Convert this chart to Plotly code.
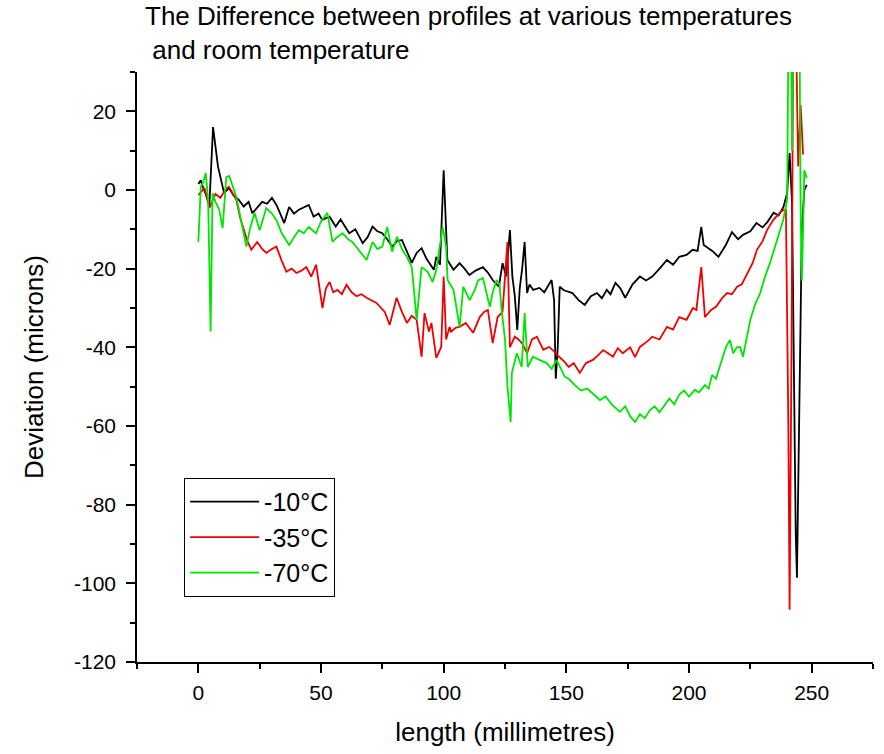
import plotly.graph_objects as go

# Deviation of each profile from the room-temperature profile (length mm, deviation microns)
profile_m10 = [
    (0, 1.5), (1, 2.5), (2, 0.5), (3, -1), (4.5, -3.8), (6, 16), (8, 6), (10.5, -0.8),
    (12.5, 0.5), (14.5, -1.5), (16.5, -2.5), (18.5, -4.2), (20.5, -3), (22, -5.9),
    (24, -4.5), (26, -3), (28, -3.5), (30, -2), (32, -4), (35, -8.4), (37, -4.3),
    (39, -6), (41, -5), (43, -4.5), (45, -3.8), (47, -6.8), (49, -6), (50.5, -7.6),
    (53.5, -6.8), (56, -9.3), (58, -7.5), (61.5, -11), (64, -10), (67, -13.5), (69, -12),
    (71, -9.3), (73, -10.5), (75, -11), (77, -12.5), (79, -14.4), (81, -13), (83, -12.7),
    (85, -15.5), (87, -18.5), (89, -16), (91, -14.8), (93, -17.5), (96, -20.3), (97, -17),
    (98.5, -19), (100, 5), (101.5, -17.8), (104, -20.3), (106.5, -18.6), (108.5, -20),
    (110.5, -21.6), (113, -20.5), (116, -19.6), (118, -21), (120, -22.9), (122.5, -24.6),
    (124, -18.6), (125.5, -22), (127, -10.2), (128, -22), (129, -27), (130, -35.6),
    (131, -25), (132, -20), (133, -13.2), (134, -26.2), (135, -24), (136.5, -25.4),
    (139, -24.9), (141, -26), (144, -22.9), (145, -28), (145.7, -48), (146.5, -40),
    (147.3, -24.6), (149, -25.5), (152.5, -26.2), (155, -28), (157.5, -29.2), (160, -27),
    (162.5, -26.2), (164.5, -27.5), (166.5, -25.4), (168, -26.5), (170, -23.6), (172, -25),
    (174, -27.4), (177, -24), (180, -22), (182.5, -23), (185, -22), (188, -20),
    (191, -17.8), (193.5, -19), (196, -17), (199, -16.5), (201.5, -15.2), (203.5, -15.5),
    (205, -9.4), (206, -14), (207, -14.4), (209.5, -15.5), (212, -17), (215, -14),
    (217.5, -10.7), (220, -12.5), (222, -11.4), (225, -10.5), (227.5, -8.4), (230, -9.5),
    (232, -8.1), (234.5, -5.8), (236.5, -6.5), (238.5, -4.3), (240, -0.8), (241, 9.4),
    (242, -3.3), (243, -60), (243.5, -87), (244, -98.6), (245, -60), (246, -10),
    (247, 0), (248, 1.3),
]

profile_m35 = [
    (0, -1.3), (1, -0.5), (2.5, 0.5), (4.5, -4.6), (5.5, -3), (7, -1), (9, -2),
    (11.5, 0.5), (12.5, 0.8), (15.5, -2.5), (17, -7), (18.8, -11), (20, -13),
    (21.6, -15.2), (24, -13.2), (26, -15), (27.7, -16), (30, -15), (31.8, -14.4),
    (34, -18), (35.9, -20.8), (38, -20), (40, -21.1), (42, -20.5), (44, -19.6), (46, -22),
    (48, -19), (50.6, -30), (52, -25), (53.5, -23.4), (55, -26), (56.7, -25.4),
    (58.5, -26.5), (60.4, -24.1), (62.5, -26), (64.5, -27), (66.5, -26.5), (68.6, -27.4),
    (70.5, -28), (72.6, -28.7), (74.5, -30), (76, -31), (78, -34.3), (80.8, -27.4),
    (83, -31), (85, -33.8), (87, -32), (89, -33), (91, -42.4), (92.2, -31.3), (94, -36),
    (95, -33.8), (97, -42.7), (99, -39.9), (100, -22), (101, -38), (102.4, -34.8),
    (103, -36), (105, -35), (106.5, -34.8), (109, -33.8), (112, -36.3), (114.7, -32.3),
    (116.5, -31), (118, -30.5), (120, -38.9), (122, -32.3), (124, -31), (126, -13.2),
    (127, -40), (129, -37.3), (130.5, -38), (132, -39), (134, -41.5), (136, -38),
    (138, -37.3), (140.6, -40.6), (143, -39.9), (145, -41), (147, -42.4), (149, -43.5),
    (151, -45), (153, -44), (155.5, -46.5), (158, -44), (160.8, -43.2), (163, -42),
    (165, -40.7), (167, -41.5), (169, -42.4), (171, -40.2), (173, -41.5), (176, -40),
    (178, -42.5), (180, -39.9), (183, -38.5), (185, -37.3), (188, -38), (191, -34.8),
    (193.5, -35.5), (196, -32.3), (199, -33), (201.6, -30), (203, -30.5), (205, -19.6),
    (206.5, -32.3), (209, -30.5), (211, -29.7), (213.5, -27.5), (215.5, -26.2),
    (217.5, -26.5), (219.6, -24.6), (221.5, -24), (223.7, -21.1), (226, -18.5),
    (227.7, -15.2), (230, -13), (231.8, -10.2), (234.4, -7.6), (237, -5.8), (238.4, -5.1),
    (239.5, -5), (240.5, -60), (241, -106.7), (241.8, -40), (242.5, 45), (243.5, 45),
    (244.5, 6), (245.5, 21.6), (246.5, 9),
]

profile_m70 = [
    (0, -13.2), (1, 0.8), (2, 2), (3, 4.3), (4, -2.5), (5, -36), (5.8, -0.8), (7, -3),
    (8.5, -5), (9.9, -9.7), (11.4, 3.3), (12.6, 3.6), (14, 1), (15.5, -1.8), (17.5, -8),
    (19.6, -14.4), (21, -10), (22.9, -5.8), (25, -10.2), (27.7, -4.6), (30, -6),
    (31.8, -7.6), (34, -11), (37, -14), (39, -12), (41, -10.2), (43, -11), (45, -9.4),
    (47, -10.5), (48, -11), (50, -8), (52.6, -5.8), (54.7, -13.2), (56.5, -12),
    (58.8, -11), (61, -12.5), (62.8, -13.2), (65, -15), (68.6, -17.8), (71, -13.2),
    (73, -15), (75, -14.4), (77, -9.4), (79, -15.7), (81, -11.9), (83, -15), (85, -17),
    (87, -19.6), (89, -33), (91, -19.6), (93.5, -20.8), (95.5, -23.4), (97, -20.3),
    (99.6, -9.4), (101, -14.4), (101.6, -22.9), (103, -24.6), (104, -25.4), (106.5, -34.8),
    (108, -24.6), (110.6, -28), (112.7, -25.4), (114, -23), (116, -22.4), (118.8, -29.7),
    (120, -26), (121.6, -22.9), (122.8, -24.1), (123.6, -30.5), (125, -38), (126, -50),
    (127.3, -59), (127.8, -46.5), (129.8, -41.5), (131.8, -45), (133, -31.3), (134.3, -45),
    (136.3, -42.4), (139, -43.2), (142, -44), (144, -45.5), (146, -43.2), (149.4, -47.5),
    (151, -48), (153.5, -49.6), (156, -51), (158.5, -50.5), (161, -52), (163.7, -53.4),
    (166, -52.5), (168.5, -54.5), (171.8, -56.4), (174, -55), (176, -57.5), (178, -59),
    (180, -57), (182, -58), (184, -56), (186, -55), (188, -56.5), (190, -54.6), (192, -53),
    (194, -54.5), (196, -52), (198, -51), (200, -52.5), (202.4, -50.8), (204, -51.5),
    (206.5, -49.6), (208, -50.5), (209.4, -47), (211, -48), (213, -44), (215, -40),
    (216.7, -38.1), (218, -41.5), (219.5, -40), (220.8, -39.9), (222, -42.4), (225, -33),
    (227, -29), (229, -26.2), (231, -22), (233, -18.6), (235.9, -12.7), (238.4, -7.6),
    (240, -2.5), (240.6, 45), (241.5, 45), (242, 10), (242.5, 45), (245, 45), (245.5, -5),
    (246, -23), (246.5, -10), (247, 5), (248, 3),
]

series = [
    ("-10°C", profile_m10, "#000000"),
    ("-35°C", profile_m35, "#f00000"),
    ("-70°C", profile_m70, "#00e600"),
]

x_ticks = [0, 50, 100, 150, 200, 250]
x_ticktext = ["0", "50", "100", "150", "200", "250"]
y_ticks = [20, 0, -20, -40, -60, -80, -100, -120]
y_ticktext = ["20", "0", "-20", "-40", "-60", "-80", "-100", "-120"]

FONT = "Liberation Sans, Arial, sans-serif"

fig = go.Figure()
for i, (label, pts, color) in enumerate(series):
    xs = [p[0] for p in pts]
    ys = [p[1] for p in pts]
    fig.add_trace(go.Scatter(
        x=xs, y=ys, mode="lines", name=label, legendgroup=f"g{i}",
        line=dict(color=color, width=1.8),
    ))

axis_common = dict(
    showline=True, linecolor="black", linewidth=1.5, mirror=False,
    showgrid=False, zeroline=False,
    ticks="outside", ticklen=9, tickwidth=1.5, tickcolor="black",
    tickfont=dict(family=FONT, size=21, color="black"),
)

fig.update_xaxes(
    range=[-25, 275], tickvals=x_ticks, ticktext=x_ticktext,
    minor=dict(ticks="outside", ticklen=5, tickwidth=1.5, tickcolor="black", dtick=25, tick0=0),
    ticklabelstandoff=2,
    title=dict(text="length (millimetres)", font=dict(family=FONT, size=26, color="black"), standoff=20),
    **axis_common,
)
fig.update_yaxes(
    range=[-120, 30], tickvals=y_ticks, ticktext=y_ticktext,
    minor=dict(ticks="outside", ticklen=5, tickwidth=1.5, tickcolor="black", dtick=10, tick0=0),
    ticklabelstandoff=6,
    title=dict(text="Deviation (microns)", font=dict(family=FONT, size=26, color="black"), standoff=23),
    **axis_common,
)

fig.update_layout(
    width=884, height=754,
    margin=dict(l=137, r=11, t=72, b=92, autoexpand=False),
    paper_bgcolor="white", plot_bgcolor="white",
    title=dict(
        text="The Difference between profiles at various temperatures<br>\u00a0and room temperature",
        x=145 / 884, xanchor="left", xref="container",
        y=0.967, yanchor="top", yref="container",
        font=dict(family=FONT, size=26, color="black"),
    ),
    legend=dict(
        x=0.064, y=0.312, xanchor="left", yanchor="top",
        bgcolor="white", bordercolor="black", borderwidth=1,
        font=dict(family=FONT, size=25, color="black"),
        tracegroupgap=0, traceorder="grouped", itemwidth=69,
    ),
    showlegend=True,
)

fig.write_html("out.html")
